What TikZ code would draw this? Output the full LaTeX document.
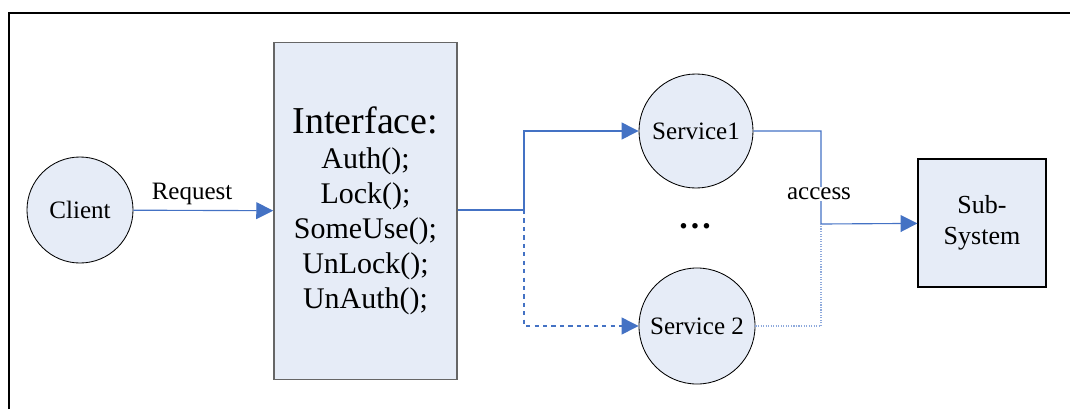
\documentclass[tikz,border=0pt]{standalone}
\usepackage{fontspec}
\setmainfont{Liberation Serif}
\usetikzlibrary{arrows.meta}
\definecolor{boxfill}{RGB}{230,236,247}
\definecolor{linkblue}{RGB}{68,114,196}
\begin{document}
\begin{tikzpicture}[x=0.025cm,y=-0.025cm,
    unit/.style={circle,draw=black,fill=boxfill,line width=0.6pt,inner sep=0pt,
      font=\fontsize{17.8}{21}\selectfont},
    block/.style={rectangle,fill=boxfill,inner sep=0pt,align=center},
    link/.style={draw=linkblue,line width=0.8pt},
    tip/.style={-{Triangle[length=12pt,width=12pt]}},
    lbl/.style={font=\fontsize{17.8}{21}\selectfont}]
    \useasboundingbox (0,0) rectangle (1070,409);
    \draw[line width=1.2pt] (9,409) -- (9,13) -- (1070,13);
    \node[unit,minimum size=2.65cm] (client) at (80,210) {Client};
    \node[block,draw=gray!80!black,line width=1.2pt,minimum width=4.575cm,minimum height=8.425cm,
      font=\fontsize{21.3}{24.9}\selectfont] (iface) at (365.5,211)
      {{\fontsize{27}{30}\selectfont Interface:}\\Auth();\\Lock();\\SomeUse();\\UnLock();\\UnAuth();};
    \node[unit,minimum size=2.85cm] (serv1) at (696,131) {Service1};
    \node[unit,minimum size=2.9cm] (serv2) at (697,326) {Service 2};
    \node[font=\fontsize{24}{28}\selectfont\bfseries] (more) at (695,226) {.\kern2.2pt.\kern2.2pt.};
    \node[block,draw=black,line width=0.8pt,minimum size=3.2cm,
      font=\fontsize{18.5}{22}\selectfont] (subsys) at (982,223) {Sub-\\System};
    \coordinate (split) at (524,210);
    \coordinate (join) at (821,224);
    \draw[link,tip] (client) -- node[lbl,above,pos=0.42] (request) {Request} (iface);
    \draw[link] (iface.east |- split) -- (split);
    \draw[link,tip] (split) |- (serv1);
    \draw[link,tip,dashed] (split) |- (serv2);
    \draw[link,tip] (serv1) -| (join) -- (subsys);
    \draw[link,densely dotted,draw=linkblue!60] (serv2) -| (join);
    \node[lbl,fill=white,inner sep=1pt] (access) at (819,194) {access};
\end{tikzpicture}
\end{document}
